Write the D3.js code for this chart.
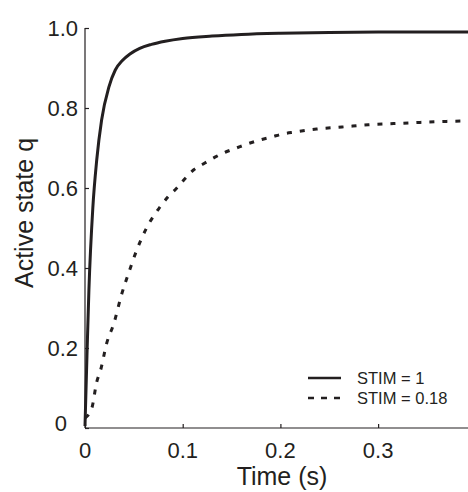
<!DOCTYPE html>
<html>
<head>
<meta charset="utf-8">
<script src="https://cdn.jsdelivr.net/npm/d3@7"></script>
<style>
  body { margin: 0; background: #fff; }
  svg text { font-family: "Liberation Sans", Arial, sans-serif; fill: #231f20; }
</style>
</head>
<body>
<div id="chart"></div>
<script>
// time (s) and active state q
const timeFull = [0, 0.002, 0.004, 0.008, 0.012, 0.017, 0.0245, 0.031, 0.038, 0.046, 0.056, 0.068, 0.082, 0.1, 0.13, 0.16, 0.2, 0.25, 0.3, 0.35, 0.392]
const stimFull = [0.005, 0.18, 0.345, 0.55, 0.67, 0.77, 0.853, 0.895, 0.918, 0.935, 0.949, 0.959, 0.967, 0.974, 0.98, 0.984, 0.987, 0.989, 0.99, 0.99, 0.99]

const timePart = [0, 0.007, 0.012, 0.016, 0.022, 0.03, 0.037, 0.045, 0.053, 0.063, 0.076, 0.085, 0.094, 0.103, 0.111, 0.121, 0.133, 0.144, 0.155, 0.166, 0.179, 0.191, 0.202, 0.215, 0.237, 0.263, 0.29, 0.316, 0.343, 0.37, 0.392]
const stimPart = [0.025, 0.05, 0.115, 0.145, 0.21, 0.265, 0.33, 0.39, 0.445, 0.5, 0.55, 0.578, 0.6, 0.625, 0.645, 0.66, 0.677, 0.69, 0.70, 0.71, 0.72, 0.7275, 0.735, 0.74, 0.7475, 0.7525, 0.758, 0.761, 0.764, 0.7665, 0.768]

const xTicks = [0, 0.1, 0.2, 0.3]
const yTicks = [0, 0.2, 0.4, 0.6, 0.8, 1.0]
const legendLabels = ['STIM = 1', 'STIM = 0.18']

const width = 468, height = 492
const margin = {top: 28, right: 0, bottom: 64, left: 85}
const ink = '#231f20'

const svg = d3.select('#chart').append('svg')
    .attr('width', width)
    .attr('height', height)

const xScale = d3.scaleLinear()
    .domain([0, 0.392])
    .range([margin.left, width - margin.right])

const yScale = d3.scaleLinear()
    .domain([0, 1])
    .range([height - margin.bottom, margin.top])

// axes with inward ticks
const xAxis = d3.axisTop(xScale)
    .tickValues(xTicks)
    .tickSize(4)
    .tickFormat('')

const yAxis = d3.axisRight(yScale)
    .tickValues(yTicks)
    .tickSize(4)
    .tickFormat('')

const gx = svg.append('g')
    .attr('transform', 'translate(0,' + yScale(0) + ')')
    .call(xAxis)
gx.select('.domain').attr('d', 'M' + xScale.range()[0] + ',0H' + xScale.range()[1])

const gy = svg.append('g')
    .attr('transform', 'translate(' + xScale(0) + ',0)')
    .call(yAxis)
gy.select('.domain').attr('d', 'M0,' + yScale.range()[0] + 'V' + yScale.range()[1])

svg.selectAll('.domain, .tick line')
    .attr('stroke', ink)
    .attr('stroke-width', 1.2)

// tick labels
svg.append('g').selectAll('text')
    .data(xTicks).enter()
    .append('text')
    .attr('x', (d) => xScale(d))
    .attr('y', yScale(0) + 30)
    .attr('text-anchor', 'middle')
    .style('font-size', '22px')
    .text((d) => d === 0 ? '0' : d.toFixed(1))

svg.append('g').selectAll('text')
    .data(yTicks).enter()
    .append('text')
    .attr('x', (d) => d === 0 ? xScale(0) - 18 : xScale(0) - 7)
    .attr('y', (d) => yScale(d) + (d === 0 ? 3 : 8))
    .attr('text-anchor', 'end')
    .style('font-size', '22px')
    .text((d) => d === 0 ? '0' : d.toFixed(1))

// axis titles
svg.append('text')
    .attr('x', 282)
    .attr('y', 485)
    .attr('text-anchor', 'middle')
    .style('font-size', '25px')
    .text('Time (s)')

svg.append('text')
    .attr('transform', 'translate(33,213)rotate(-90)')
    .attr('text-anchor', 'middle')
    .style('font-size', '25px')
    .text('Active state q')

// curves
const line = d3.line()
    .x((d) => xScale(d[0]))
    .y((d) => yScale(d[1]))
    .curve(d3.curveMonotoneX)

svg.append('path')
    .datum(timeFull.map((t, i) => [t, stimFull[i]]))
    .attr('d', line)
    .attr('fill', 'none')
    .attr('stroke', ink)
    .attr('stroke-width', 3)

svg.append('path')
    .datum(timePart.map((t, i) => [t, stimPart[i]]))
    .attr('d', line)
    .attr('fill', 'none')
    .attr('stroke', ink)
    .attr('stroke-width', 3)
    .attr('stroke-dasharray', '5,8')

// legend
const legend = svg.append('g')
    .selectAll('g')
    .data(legendLabels).enter()
    .append('g')
    .attr('transform', (d, i) => 'translate(308,' + (378 + i * 20) + ')')

legend.append('line')
    .attr('x1', 0)
    .attr('x2', 33)
    .attr('stroke', ink)
    .attr('stroke-width', 2.5)
    .attr('stroke-dasharray', (d, i) => i === 0 ? null : '6,7')

legend.append('text')
    .attr('x', 49)
    .attr('y', 6)
    .style('font-size', '16.5px')
    .text((d) => d)
</script>
</body>
</html>
